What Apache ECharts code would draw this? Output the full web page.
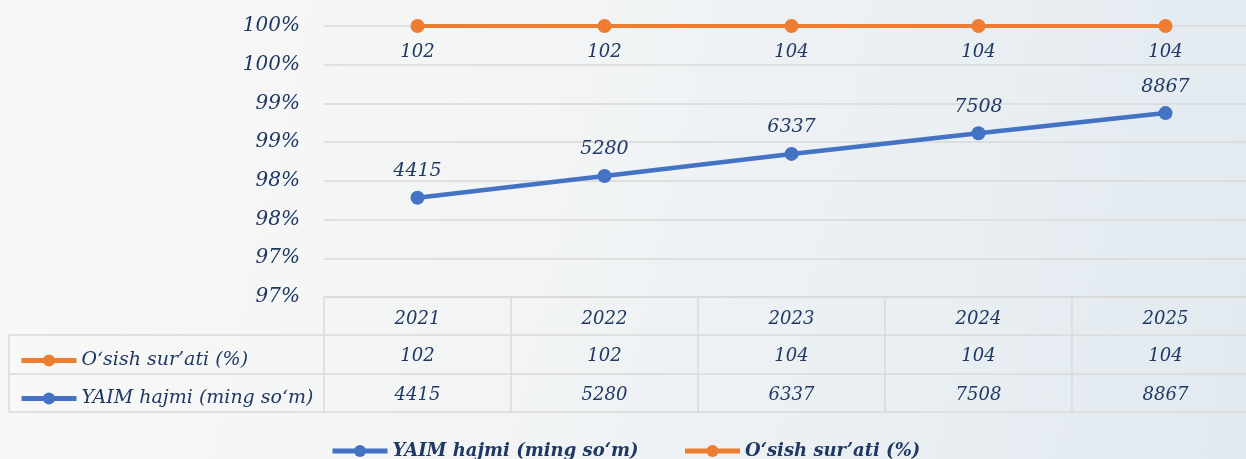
<!DOCTYPE html>
<html>
<head>
<meta charset="utf-8">
<style>
html,body{margin:0;padding:0;overflow:hidden;}
#main{width:1260px;height:459px;}
</style>
</head>
<body>
<div id="main"></div>
<script src="https://cdn.jsdelivr.net/npm/echarts@6/dist/echarts.min.js"></script>
<script type="text/javascript">
	var years = ['2021', '2022', '2023', '2024', '2025'];
	var growth = [102, 102, 104, 104, 104];
	var gdp = [4415, 5280, 6337, 7508, 8867];
	var growthName = 'O‘sish sur’ati (%)';
	var gdpName = 'YAIM hajmi (ming so‘m)';

	var navy = '#1f3864';
	var orange = '#ed7d31';
	var blue = '#4472c4';
	var lineGray = '#d9d9d9';
	var font = 'DejaVu Serif';

	// percent axis runs 96.5..100, values above the max sit on the top edge (like the original)
	var pctMax = 100;
	var growthPlot = growth.map(function (v) { return Math.min(v, pctMax); });

	// the last table column runs past the right edge of the window, so the canvas is a bit wider
	var myChart = echarts.init(document.getElementById('main'));

	var legendIcon = {
		itemWidth: 55,
		itemHeight: 15,
		lineStyle: {width: 5}
	};

	var option = {
		backgroundColor: {
			type: 'linear', x: 0, y: 0, x2: 1, y2: 0.6,
			colorStops: [
				{offset: 0, color: '#f9f8f6'},
				{offset: 0.45, color: '#f2f4f5'},
				{offset: 1, color: '#e2eaf0'}
			]
		},
		textStyle: {fontFamily: font, fontStyle: 'italic', color: navy},
		grid: {left: 324, top: 26, width: 935, height: 271},
		legend: [echarts.util.extend({
			data: [gdpName, growthName],
			left: 325,
			top: 437,
			itemGap: 44,
			textStyle: {fontFamily: font, fontStyle: 'italic', fontWeight: 'bold', fontSize: 18, color: navy}
		}, legendIcon), echarts.util.extend({
			data: [growthName, gdpName],
			orient: 'vertical',
			left: 14,
			top: 346,
			itemGap: 19,
			textStyle: {fontFamily: font, fontStyle: 'italic', fontSize: 19, color: navy}
		}, legendIcon)],
		xAxis: {
			type: 'category',
			data: years,
			axisLine: {lineStyle: {color: lineGray, width: 1.5}},
			axisTick: {show: true, interval: 0, length: 115, lineStyle: {color: lineGray, width: 1.5}},
			axisLabel: {margin: 13, fontSize: 18, fontStyle: 'italic', fontFamily: font, color: navy}
		},
		yAxis: [{
			type: 'value',
			min: 96.5,
			max: pctMax,
			interval: 0.5,
			axisLine: {show: false},
			axisTick: {show: false},
			splitLine: {lineStyle: {color: lineGray, width: 1.5}},
			axisLabel: {
				margin: 24,
				fontSize: 20,
				fontStyle: 'italic',
				fontFamily: font,
				color: navy,
				formatter: function (v) { return Math.round(v) + '%'; }
			}
		}, {
			type: 'log',
			min: 1950,
			max: 18170,
			show: false
		}],
		series: [{
			name: growthName,
			type: 'line',
			data: growthPlot,
			yAxisIndex: 0,
			symbol: 'circle',
			symbolSize: 14,
			lineStyle: {color: orange, width: 4},
			itemStyle: {color: orange},
			label: {
				show: true,
				position: 'bottom',
				distance: 10,
				fontSize: 18,
				fontStyle: 'italic',
				fontFamily: font,
				color: navy,
				formatter: function (p) { return growth[p.dataIndex]; }
			}
		}, {
			name: gdpName,
			type: 'line',
			data: gdp,
			yAxisIndex: 1,
			symbol: 'circle',
			symbolSize: 14,
			lineStyle: {color: blue, width: 4.5},
			itemStyle: {color: blue},
			label: {
				show: true,
				position: 'top',
				distance: 10,
				fontSize: 19,
				fontStyle: 'italic',
				fontFamily: font,
				color: navy
			}
		}]
	};
	myChart.setOption(option);

	// data table under the axis
	var rowY = [356, 395];
	var rows = [growth, gdp];
	var g = [];
	[335, 374, 412].forEach(function (y) {
		g.push({type: 'line', shape: {x1: 9, y1: y, x2: 1260, y2: y}, style: {stroke: lineGray, lineWidth: 1.5}});
	});
	g.push({type: 'line', shape: {x1: 9, y1: 335, x2: 9, y2: 412}, style: {stroke: lineGray, lineWidth: 1.5}});
	rows.forEach(function (vals, r) {
		vals.forEach(function (v, i) {
			var x = myChart.convertToPixel({xAxisIndex: 0}, i);
			g.push({
				type: 'text',
				x: x, y: rowY[r],
				style: {
					text: String(v), fill: navy, align: 'center', verticalAlign: 'middle',
					font: 'italic 18px "' + font + '"'
				}
			});
		});
	});
	myChart.setOption({graphic: g});
</script>
</body>
</html>
